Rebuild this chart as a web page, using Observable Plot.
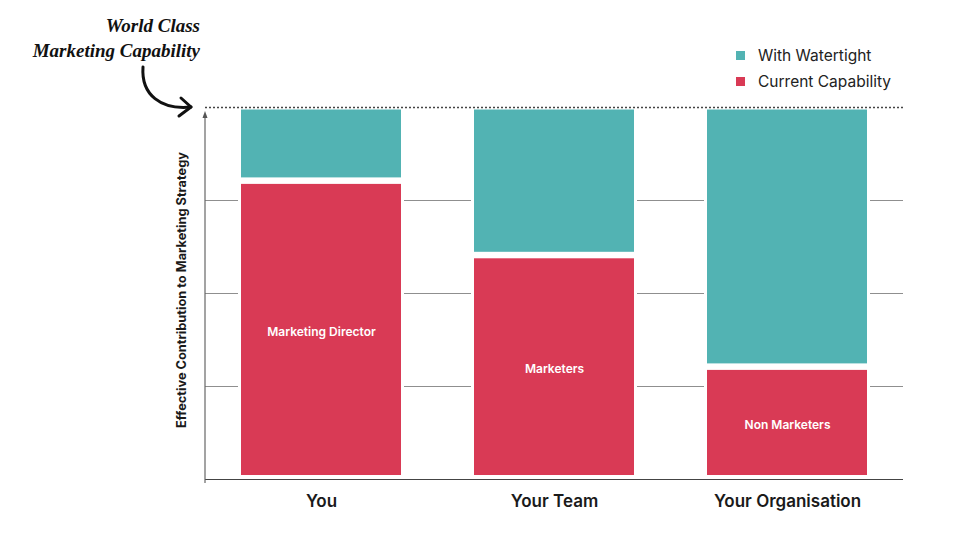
<!DOCTYPE html>
<html>
<head>
<meta charset="utf-8">
<script src="https://cdn.jsdelivr.net/npm/d3@7"></script>
<script src="https://cdn.jsdelivr.net/npm/@observablehq/plot@0.6"></script>
<style>
  html, body { margin: 0; padding: 0; background: #fff; }
  #wrap { position: relative; width: 980px; height: 551px; overflow: hidden; font-family: Inter, "Noto Sans", sans-serif; }
  #legend { position: absolute; left: 736px; top: 42px; color: #222; font-size: 15.5px; }
  .item { display: flex; align-items: center; height: 26.5px; }
  .sw { width: 9px; height: 9px; margin-right: 13px; }
</style>
</head>
<body>
<div id="wrap"></div>
<script>
const categories = ["You", "Your Team", "Your Organisation"];
const currentValues = [80, 60, 30];
const watertightValues = [20, 40, 70];
const barLabels = ["Marketing Director", "Marketers", "Non Marketers"];
const seriesNames = ["Current Capability", "With Watertight"];
const seriesColors = ["#d93a55", "#52b3b3"];
const legendOrder = ["With Watertight", "Current Capability"];
const gridTicks = [25, 50, 75];
const yMax = 100;
const yLabel = "Effective Contribution to Marketing Strategy";
const titleLines = ["World Class", "Marketing Capability"];

const rows = [];
categories.forEach((c, i) => {
  rows.push({group: c, series: seriesNames[0], value: currentValues[i]});
  rows.push({group: c, series: seriesNames[1], value: watertightValues[i]});
});
const labelRows = categories.map((c, i) => ({group: c, label: barLabels[i], mid: currentValues[i] / 2}));
const totals = categories.map((c, i) => ({group: c, total: currentValues[i] + watertightValues[i]}));

function decorations(index, scales, values, dimensions) {
  const {marginLeft} = dimensions;
  const y = scales.y;
  const top = y(yMax), bottom = y(0);
  const g = d3.create("svg:g");
  g.append("line").attr("x1", marginLeft).attr("x2", marginLeft)
    .attr("y1", top + 8).attr("y2", bottom + 4)
    .attr("stroke", "#666").attr("stroke-width", 1.2);
  g.append("path").attr("d", `M${marginLeft - 2.5},${top + 11} L${marginLeft},${top + 4} L${marginLeft + 2.5},${top + 11} Z`)
    .attr("fill", "#555");
  g.append("text")
    .attr("transform", `translate(${marginLeft - 19},${(top + bottom) / 2 - 3}) rotate(-90)`)
    .attr("text-anchor", "middle")
    .attr("font-size", 12.8).attr("font-weight", "bold").attr("fill", "#1a1a1a")
    .text(yLabel);
  titleLines.forEach((t, i) => {
    g.append("text")
      .attr("x", marginLeft - 5).attr("y", top - 75 + i * 25)
      .attr("text-anchor", "end")
      .attr("font-family", "'Liberation Serif', serif")
      .attr("font-style", "italic").attr("font-weight", "bold")
      .attr("font-size", 19).attr("fill", "#111")
      .text(t);
  });
  const ex = marginLeft - 14, ey = top;
  g.append("path")
    .attr("d", `M${ex - 48},${ey - 40} C${ex - 50},${ey - 12} ${ex - 30},${ey + 3} ${ex},${ey}`)
    .attr("fill", "none").attr("stroke", "#111").attr("stroke-width", 3).attr("stroke-linecap", "round");
  g.append("path")
    .attr("d", `M${ex - 10},${ey - 9} L${ex},${ey} L${ex - 12},${ey + 9}`)
    .attr("fill", "none").attr("stroke", "#111").attr("stroke-width", 3)
    .attr("stroke-linecap", "round").attr("stroke-linejoin", "round");
  return g.node();
}

const chart = Plot.plot({
  width: 980,
  height: 551,
  marginLeft: 205,
  marginRight: 77,
  marginTop: 107,
  marginBottom: 72,
  style: {fontFamily: "Inter, 'Noto Sans', sans-serif", background: "#fff"},
  x: {domain: categories, paddingInner: 0.315, paddingOuter: 0.152, label: null},
  y: {domain: [0, yMax], axis: null},
  color: {domain: seriesNames, range: seriesColors},
  marks: [
    Plot.gridY(gridTicks, {stroke: "#8f8f8f", strokeOpacity: 1, strokeWidth: 1}),
    Plot.barY(totals, {x: "group", y: "total", fill: "white", insetLeft: -3, insetRight: -3}),
    Plot.barY(rows, Plot.stackY({x: "group", y: "value", fill: "series", insetTop: 2.5, insetBottom: 4})),
    Plot.ruleY([0], {stroke: "#444", strokeWidth: 1.2}),
    Plot.ruleY([yMax], {stroke: "#444", strokeWidth: 1.5, strokeDasharray: "2,2"}),
    Plot.text(labelRows, {x: "group", y: "mid", text: "label", fill: "white", fontWeight: 600, fontSize: 12, dy: 1}),
    Plot.axisX({tickSize: 0, tickPadding: 15, fontSize: 17, fontWeight: 600, fill: "#1a1a1a", label: null}),
    decorations
  ]
});

const wrap = document.getElementById("wrap");
wrap.appendChild(chart);
const legend = document.createElement("div");
legend.id = "legend";
legendOrder.forEach(name => {
  const it = document.createElement("div");
  it.className = "item";
  const sw = document.createElement("span");
  sw.className = "sw";
  sw.style.background = seriesColors[seriesNames.indexOf(name)];
  const tx = document.createElement("span");
  tx.textContent = name;
  it.appendChild(sw); it.appendChild(tx);
  legend.appendChild(it);
});
wrap.appendChild(legend);
</script>
</body>
</html>
